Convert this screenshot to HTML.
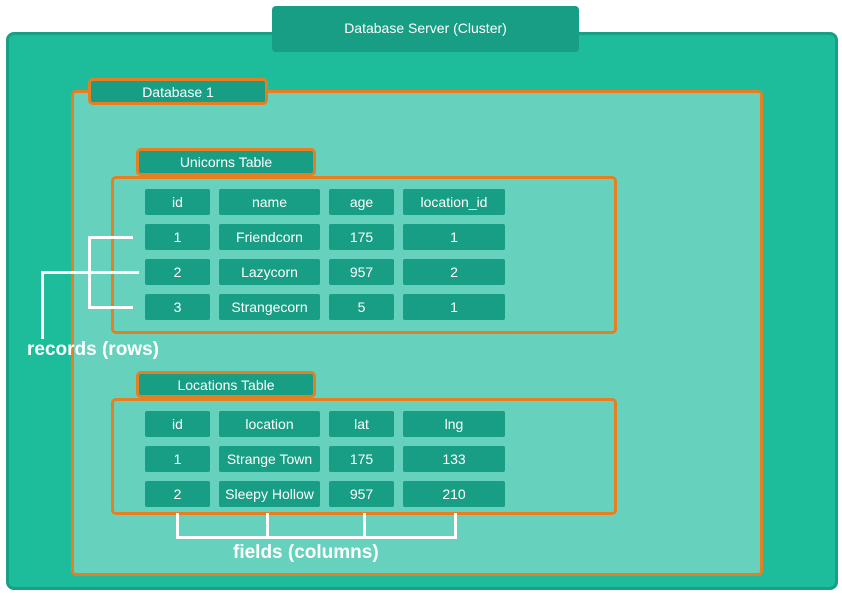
<!DOCTYPE html>
<html><head><style>
body{margin:0;width:842px;height:596px;background:#fff;position:relative;font-family:"Liberation Sans",sans-serif;overflow:hidden}
div{position:absolute;box-sizing:border-box}
.c{background:#179e84;color:#fff;font-size:14px;display:flex;align-items:center;justify-content:center;border-radius:2px;height:26px}
.lbl{background:#179e84;color:#fff;font-size:14px;display:flex;align-items:center;justify-content:center;border:3px solid #e67e22;border-radius:5px}
.tb{border:3px solid #e67e22;border-radius:5px;background:#66d1bc}
.w{background:#fff}
</style></head><body>
<div style="left:6px;top:32px;width:832px;height:558px;background:#1dbc9b;border:3px solid #17a085;border-radius:8px"></div>
<div style="left:272px;top:6px;width:307px;height:46px;background:#179e84;border-radius:4px;color:#fff;font-size:14px;display:flex;align-items:center;justify-content:center;padding-bottom:2px">Database Server (Cluster)</div>
<div class="tb" style="left:71px;top:90px;width:692px;height:486px"></div>
<div class="lbl" style="left:88px;top:78px;width:180px;height:27px">Database 1</div>
<div class="tb" style="left:111px;top:176px;width:506px;height:158px"></div>
<div class="lbl" style="left:136px;top:148px;width:180px;height:28px">Unicorns Table</div>
<div class="tb" style="left:111px;top:398px;width:506px;height:117px"></div>
<div class="lbl" style="left:136px;top:371px;width:180px;height:27px">Locations Table</div>

<div class="c" style="left:145px;top:189px;width:65px">id</div>
<div class="c" style="left:219px;top:189px;width:101px">name</div>
<div class="c" style="left:329px;top:189px;width:65px">age</div>
<div class="c" style="left:403px;top:189px;width:102px">location_id</div>
<div class="c" style="left:145px;top:224px;width:65px">1</div>
<div class="c" style="left:219px;top:224px;width:101px">Friendcorn</div>
<div class="c" style="left:329px;top:224px;width:65px">175</div>
<div class="c" style="left:403px;top:224px;width:102px">1</div>
<div class="c" style="left:145px;top:259px;width:65px">2</div>
<div class="c" style="left:219px;top:259px;width:101px">Lazycorn</div>
<div class="c" style="left:329px;top:259px;width:65px">957</div>
<div class="c" style="left:403px;top:259px;width:102px">2</div>
<div class="c" style="left:145px;top:294px;width:65px">3</div>
<div class="c" style="left:219px;top:294px;width:101px">Strangecorn</div>
<div class="c" style="left:329px;top:294px;width:65px">5</div>
<div class="c" style="left:403px;top:294px;width:102px">1</div>

<div class="c" style="left:145px;top:411px;width:65px">id</div>
<div class="c" style="left:219px;top:411px;width:101px">location</div>
<div class="c" style="left:329px;top:411px;width:65px">lat</div>
<div class="c" style="left:403px;top:411px;width:102px">lng</div>
<div class="c" style="left:145px;top:446px;width:65px">1</div>
<div class="c" style="left:219px;top:446px;width:101px">Strange Town</div>
<div class="c" style="left:329px;top:446px;width:65px">175</div>
<div class="c" style="left:403px;top:446px;width:102px">133</div>
<div class="c" style="left:145px;top:481px;width:65px">2</div>
<div class="c" style="left:219px;top:481px;width:101px">Sleepy Hollow</div>
<div class="c" style="left:329px;top:481px;width:65px">957</div>
<div class="c" style="left:403px;top:481px;width:102px">210</div>

<div class="w" style="left:88px;top:236px;width:3px;height:72px"></div>
<div class="w" style="left:88px;top:236px;width:45px;height:3px"></div>
<div class="w" style="left:88px;top:306px;width:45px;height:3px"></div>
<div class="w" style="left:41px;top:271px;width:98px;height:3px"></div>
<div class="w" style="left:41px;top:271px;width:3px;height:68px"></div>
<div style="left:27px;top:339px;color:#fff;font-size:19px;font-weight:bold;white-space:nowrap">records (rows)</div>

<div class="w" style="left:176px;top:536px;width:281px;height:3px"></div>
<div class="w" style="left:176px;top:513px;width:3px;height:25px"></div>
<div class="w" style="left:266px;top:513px;width:3px;height:25px"></div>
<div class="w" style="left:363px;top:513px;width:3px;height:25px"></div>
<div class="w" style="left:454px;top:513px;width:3px;height:25px"></div>
<div style="left:233px;top:542px;color:#fff;font-size:19px;font-weight:bold;white-space:nowrap">fields (columns)</div>
</body></html>
